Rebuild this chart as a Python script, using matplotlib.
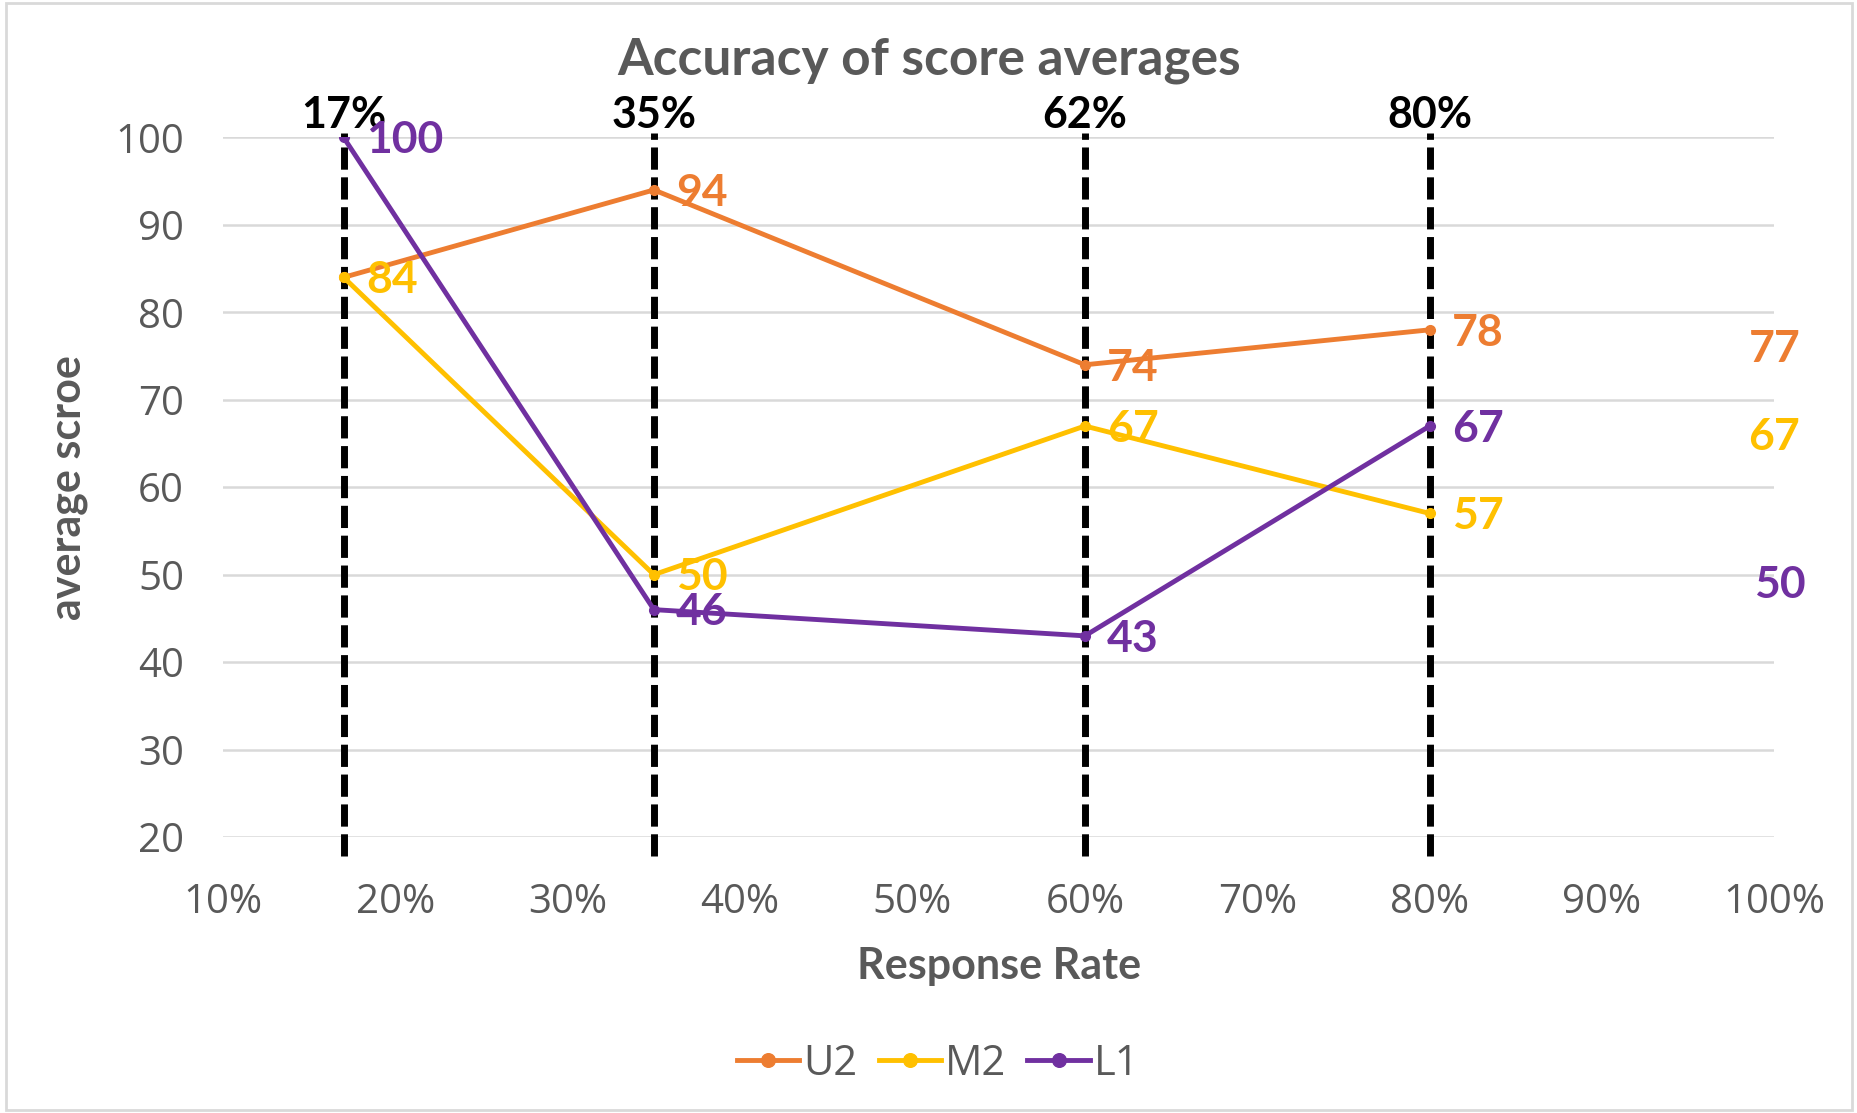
import matplotlib.pyplot as plt
from matplotlib.patches import Rectangle
from matplotlib.ticker import FuncFormatter
import matplotlib.transforms as mtransforms

# response rates (x, in %) and average scores per group
rates = [17, 35, 60, 80]
u2 = [84, 94, 74, 78]
m2 = [84, 50, 67, 57]
l1 = [100, 46, 43, 67]

# labels shown above the dashed reference lines
rate_labels = ['17%', '35%', '62%', '80%']

# values at 100% response
full_rate = 100
full_vals = {'U2': 77, 'M2': 67, 'L1': 50}

names = ['U2', 'M2', 'L1']
colors = {'U2': '#ED7D31', 'M2': '#FFC000', 'L1': '#7030A0'}
series = {'U2': u2, 'M2': m2, 'L1': l1}

LABEL_FONT = ['Lato', 'Open Sans', 'DejaVu Sans']
TICK_FONT = ['Open Sans', 'DejaVu Sans']
GRAY = '#595959'

fig = plt.figure(figsize=(18.58, 11.13), dpi=100)
ax = fig.add_axes([0.12, 0.248, 0.835, 0.6285])

ax.set_xlim(10, 100)
ax.set_ylim(20, 100)
ax.set_xticks(range(10, 101, 10))
ax.set_yticks(range(20, 101, 10))
ax.xaxis.set_major_formatter(FuncFormatter(lambda v, p: f'{v:.0f}%'))
ax.grid(axis='y', color='#D9D9D9', lw=1.8)
ax.set_axisbelow(True)
for s in ax.spines.values():
    s.set_visible(False)
ax.tick_params(axis='both', length=0, labelcolor=GRAY, labelsize=29)
ax.tick_params(axis='y', pad=28)
ax.tick_params(axis='x', pad=33)
for t in ax.get_xticklabels() + ax.get_yticklabels():
    t.set_family(TICK_FONT)

# dashed reference lines at each sampled rate
trans = mtransforms.blended_transform_factory(ax.transData, ax.transAxes)
for r, lab in zip(rates, rate_labels):
    ax.axvline(r, ymin=-0.027, ymax=1.006, color='black', lw=5,
               dashes=(3.2, 1.1), clip_on=False, zorder=1)
    ax.text(r, 1.032, lab, transform=trans, ha='center', va='center',
            fontsize=31, fontweight='bold', family=LABEL_FONT, color='black')

for name in names:
    ax.plot(rates, series[name], color=colors[name], lw=3.5, marker='o',
            ms=7, label=name, zorder=3)

# data labels to the right of each point
for name in ['L1', 'U2', 'M2']:
    for x, y in zip(rates, series[name]):
        if name == 'U2' and x == 17:
            continue
        ax.annotate(str(y), (x, y), xytext=(16, -2), textcoords='offset points',
                    ha='left', va='center', fontsize=32, fontweight='bold',
                    family=LABEL_FONT, color=colors[name], zorder=4)

for name, v in full_vals.items():
    dx = 0.3 if name == 'L1' else 0
    ax.text(full_rate + dx, v - 1.2, str(v), ha='center', va='center',
            fontsize=32, fontweight='bold', family=LABEL_FONT,
            color=colors[name], clip_on=False)

ax.set_xlabel('Response Rate', fontsize=31, fontweight='bold', color=GRAY,
              family=LABEL_FONT, labelpad=16)
ax.set_ylabel('average scroe', fontsize=31, fontweight='bold', color=GRAY,
              family=LABEL_FONT, labelpad=20)

fig.text(0.5, 1 - 61 / 1113, 'Accuracy of score averages', ha='center',
         va='center', fontsize=37, fontweight='bold', color=GRAY,
         family=LABEL_FONT)

leg = fig.legend(loc='center', bbox_to_anchor=(0.505, 0.044), ncol=3,
                 frameon=False, fontsize=30, handlelength=1.5,
                 handletextpad=0.1, columnspacing=0.5, markerscale=1.4)
for t in leg.get_texts():
    t.set_color(GRAY)
    t.set_family(TICK_FONT)

fig.patches.append(Rectangle((0.003, 0.003), 0.994, 0.994, transform=fig.transFigure,
                             fill=False, edgecolor='#D9D9D9', lw=2))

fig.savefig('out.png', dpi=100, facecolor='white')
